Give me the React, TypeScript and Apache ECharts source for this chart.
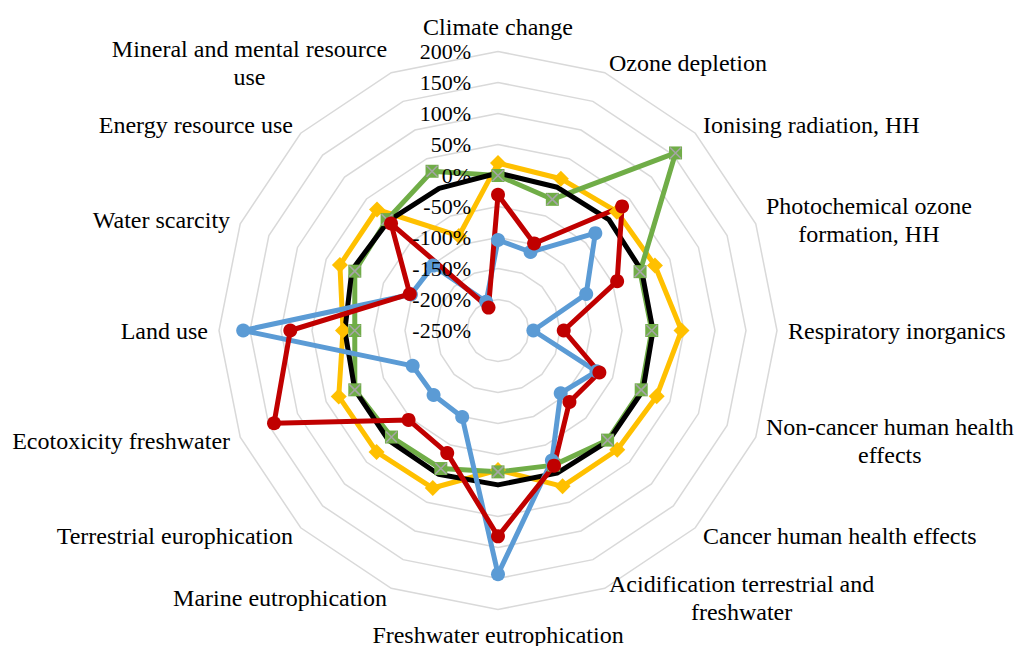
import React, { useEffect, useRef } from 'react';
import * as echarts from 'echarts';

// Categories in the reference's clockwise order, starting at the top
const categories = [
  'Climate change',
  'Ozone depletion',
  'Ionising radiation, HH',
  'Photochemical ozone\nformation, HH',
  'Respiratory inorganics',
  'Non-cancer human health\neffects',
  'Cancer human health effects',
  'Acidification terrestrial and\nfreshwater',
  'Freshwater eutrophication',
  'Marine eutrophication',
  'Terrestrial europhication',
  'Ecotoxicity freshwater',
  'Land use',
  'Water scarcity',
  'Energy resource use',
  'Mineral and mental resource\nuse',
];

// Series values (%), same order as categories
const yellowValues = [20, 15, 21, 24, 46, 27, 22, 22, -25, 25, 27, 28, 0, 26, 26, -85];
const greenValues = [0, -21, 155, -2, -2, 0, 0, -15, -22, -9, -7, 0, -19, 0, 3, 28];
const blackValues = [4, 0, 3, 1, 0, 3, 2, -1, -1, 1, 0, 0, -3, 5, 0, -2];
const blueValues = [-104, -113, -28, -96, -193, -78, -107, -23, 143, -99, -103, -101, 161, -98, -102, -200];
const redValues = [-31, -98, 33, -42, -144, -73, -87, -14, 82, -36, -46, 141, 85, -96, -6, -210];

// Axis ticks
const tickMin = -250;
const tickMax = 200;
const tickStep = 50;

const FONT = '"Liberation Serif", "Times New Roman", Times, serif';

export default function App() {
  const ref = useRef<HTMLDivElement>(null);

  useEffect(() => {
    if (!ref.current) return;
    const chart = echarts.init(ref.current, undefined, { renderer: 'svg' });

    // ECharts radar runs counter-clockwise; reorder so the picture reads clockwise
    const order = categories.map((_, i) => (i === 0 ? 0 : categories.length - i));
    const pick = (arr: number[]) => order.map((i) => arr[i]);

    const splitNumber = (tickMax - tickMin) / tickStep;
    const center = [498, 330.5];
    const radius = 279;

    const indicator = order.map((i) => ({ name: categories[i], min: tickMin, max: tickMax }));
    const labelIndicator = order.map((i, k) =>
      k === 0
        ? {
            name: '',
            min: tickMin,
            max: tickMax,
            axisLabel: {
              show: true,
              formatter: '{value}%',
              margin: 27,
              fontSize: 22,
              fontFamily: FONT,
              color: '#000',
            },
          }
        : { name: '', min: tickMin, max: tickMax }
    );

    const lineSeries = (
      name: string,
      values: number[],
      color: string,
      symbol: string,
      symbolSize: number
    ) => ({
      type: 'radar',
      name,
      radarIndex: 0,
      symbol,
      symbolSize,
      z: 2,
      lineStyle: { color, width: 5, join: 'round', cap: 'round' },
      itemStyle: { color, borderWidth: 0 },
      data: [{ value: pick(values), name }],
    });

    chart.setOption({
      animation: false,
      backgroundColor: '#ffffff',
      radar: [
        {
          center,
          radius,
          startAngle: 90,
          splitNumber,
          shape: 'polygon',
          indicator,
          axisNameGap: 11,
          axisName: {
            color: '#000',
            fontFamily: FONT,
            fontSize: 24,
            lineHeight: 28,
            formatter: (n: string) =>
              n
                .split('\n')
                .map((l) => `{c|${l}}`)
                .join('\n'),
            rich: {
              c: {
                fontFamily: FONT,
                fontSize: 24,
                lineHeight: 28,
                color: '#000',
                align: 'center',
              },
            },
          },
          splitLine: { lineStyle: { color: '#D9D9D9', width: 1.5 } },
          splitArea: { show: false },
          axisLine: { show: false },
          axisTick: { show: false },
          axisLabel: { show: false },
          z: 0,
        },
        {
          center,
          radius,
          startAngle: 90,
          splitNumber,
          shape: 'polygon',
          indicator: labelIndicator,
          axisName: { show: false },
          splitLine: { show: false },
          splitArea: { show: false },
          axisLine: { show: false },
          axisTick: { show: false },
          axisLabel: { show: false },
          z: 10,
        },
      ],
      series: [
        lineSeries('Yellow', yellowValues, '#FFC000', 'diamond', 16),
        lineSeries('Green', greenValues, '#70AD47', 'rect', 13),
        {
          type: 'radar',
          name: 'GreenX',
          radarIndex: 0,
          symbol: 'path://M0 0L10 10M10 0L0 10',
          symbolSize: 11,
          z: 2,
          lineStyle: { width: 0, opacity: 0 },
          itemStyle: { color: 'transparent', borderColor: '#A5A5A5', borderWidth: 1.6 },
          data: [{ value: pick(greenValues), name: 'GreenX' }],
        },
        lineSeries('Black', blackValues, '#000000', 'none', 0),
        lineSeries('Blue', blueValues, '#5B9BD5', 'circle', 14),
        lineSeries('Red', redValues, '#C00000', 'circle', 14),
      ],
    });

    return () => chart.dispose();
  }, []);

  return (
    <div
      ref={ref}
      style={{ position: 'absolute', left: 0, top: 0, width: 1016, height: 646, background: '#fff' }}
    />
  );
}
